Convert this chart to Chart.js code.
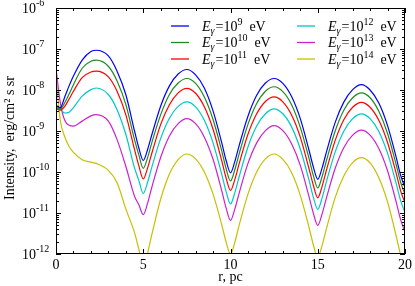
<!DOCTYPE html>
<html>
<head>
<meta charset="utf-8">
<script src="https://cdn.jsdelivr.net/npm/chart.js@4.4.0/dist/chart.umd.min.js"></script>
<style>
  html, body { margin: 0; padding: 0; background: #fff; }
</style>
</head>
<body>
<canvas id="myChart" width="415" height="286"></canvas>
<script>
// r, pc
const radius = [0, 0.25, 0.5, 0.75, 1, 1.5, 2, 2.3, 3, 3.5, 4, 4.5, 4.75, 5, 5.25, 5.5, 6, 6.5, 7, 7.5,
  8, 8.5, 9, 9.5, 9.75, 10, 10.25, 10.5, 11, 11.5, 12, 12.5, 13, 13.5, 14, 14.5, 14.75, 15, 15.25, 15.5,
  16, 16.5, 17, 17.5, 18, 18.5, 19, 19.5, 19.75, 20]

// photon energy exponents (E = 10^n eV)
const energyExp = [9, 10, 11, 12, 13, 14]
const lineColors = ['#0000ff', '#1e8c1e', '#ff0000', '#00c8c8', '#cc22cc', '#c8bf00']

// intensity, erg/cm^2 s sr
const intensity9 = [4.17e-9, 3.72e-9, 6.76e-9, 1.26e-8, 2.19e-8, 5.37e-8, 8.71e-8, 9.33e-8, 6.76e-8, 2.88e-8,
  7.76e-9, 1.0e-9, 3.80e-10, 1.91e-10, 3.55e-10, 8.32e-10, 4.07e-9, 1.26e-8, 2.45e-8, 3.16e-8,
  2.34e-8, 1.12e-8, 3.09e-9, 5.13e-10, 1.91e-10, 9.55e-11, 1.82e-10, 4.47e-10, 2.29e-9, 7.41e-9,
  1.48e-8, 1.91e-8, 1.45e-8, 6.92e-9, 2.0e-9, 3.39e-10, 1.32e-10, 6.61e-11, 1.26e-10, 3.09e-10,
  1.62e-9, 5.13e-9, 1.02e-8, 1.35e-8, 1.0e-8, 4.79e-9, 1.35e-9, 2.24e-10, 8.32e-11, 4.17e-11]
const intensity10 = [3.72e-9, 3.47e-9, 4.90e-9, 7.94e-9, 1.35e-8, 3.39e-8, 5.01e-8, 5.37e-8, 3.80e-8, 1.66e-8,
  4.47e-9, 6.17e-10, 2.57e-10, 1.23e-10, 2.24e-10, 5.37e-10, 2.51e-9, 7.76e-9, 1.48e-8, 1.91e-8,
  1.45e-8, 6.76e-9, 1.91e-9, 3.24e-10, 1.20e-10, 6.03e-11, 1.15e-10, 2.82e-10, 1.45e-9, 4.68e-9,
  9.33e-9, 1.20e-8, 9.12e-9, 4.37e-9, 1.23e-9, 2.14e-10, 8.13e-11, 4.07e-11, 7.76e-11, 1.91e-10,
  1.0e-9, 3.24e-9, 6.46e-9, 8.51e-9, 6.46e-9, 3.02e-9, 8.71e-10, 1.48e-10, 5.62e-11, 2.82e-11]
const intensity11 = [3.55e-9, 3.24e-9, 3.98e-9, 6.03e-9, 9.33e-9, 2.0e-8, 2.75e-8, 2.88e-8, 2.09e-8, 9.33e-9,
  2.51e-9, 3.55e-10, 1.41e-10, 6.76e-11, 1.26e-10, 2.95e-10, 1.45e-9, 4.37e-9, 8.51e-9, 1.10e-8,
  8.32e-9, 3.89e-9, 1.10e-9, 1.86e-10, 7.08e-11, 3.55e-11, 6.61e-11, 1.62e-10, 8.32e-10, 2.63e-9,
  5.25e-9, 6.76e-9, 5.13e-9, 2.45e-9, 7.08e-10, 1.20e-10, 4.68e-11, 2.34e-11, 4.47e-11, 1.12e-10,
  5.89e-10, 1.91e-9, 3.80e-9, 5.01e-9, 3.80e-9, 1.82e-9, 5.25e-10, 9.12e-11, 3.47e-11, 1.78e-11]
const intensity12 = [4.37e-9, 3.39e-9, 2.75e-9, 2.88e-9, 3.72e-9, 7.08e-9, 1.02e-8, 1.12e-8, 7.76e-9, 3.31e-9,
  8.32e-10, 1.26e-10, 6.17e-11, 3.02e-11, 5.62e-11, 1.35e-10, 6.61e-10, 2.04e-9, 3.98e-9, 5.13e-9,
  3.89e-9, 1.82e-9, 5.13e-10, 8.71e-11, 3.31e-11, 1.66e-11, 3.16e-11, 7.76e-11, 4.07e-10, 1.32e-9,
  2.63e-9, 3.47e-9, 2.63e-9, 1.26e-9, 3.63e-10, 6.31e-11, 2.40e-11, 1.23e-11, 2.34e-11, 5.89e-11,
  3.09e-10, 1.0e-9, 2.0e-9, 2.63e-9, 2.0e-9, 9.77e-10, 2.88e-10, 5.13e-11, 2.0e-11, 1.02e-11]
const intensity13 = [3.31e-8, 4.79e-9, 1.82e-9, 1.38e-9, 1.32e-9, 1.74e-9, 2.34e-9, 2.51e-9, 1.74e-9, 6.17e-10,
  1.38e-10, 2.57e-11, 1.58e-11, 9.12e-12, 1.74e-11, 4.37e-11, 2.29e-10, 7.59e-10, 1.51e-9, 2.0e-9,
  1.51e-9, 7.08e-10, 2.04e-10, 3.47e-11, 1.32e-11, 6.61e-12, 1.26e-11, 3.09e-11, 1.62e-10, 5.13e-10,
  1.02e-9, 1.35e-9, 1.02e-9, 4.90e-10, 1.45e-10, 2.51e-11, 9.77e-12, 5.01e-12, 9.55e-12, 2.34e-11,
  1.23e-10, 3.98e-10, 7.94e-10, 1.05e-9, 7.94e-10, 3.72e-10, 1.07e-10, 1.82e-11, 6.92e-12, 3.47e-12]
const intensity14 = [2.0e-8, 1.78e-9, 7.24e-10, 4.17e-10, 3.02e-10, 2.0e-10, 1.74e-10, 1.62e-10, 1.10e-10, 5.50e-11,
  1.26e-11, 3.31e-12, 1.29e-12, 5.01e-13, 1.07e-12, 3.09e-12, 2.19e-11, 8.91e-11, 2.0e-10, 2.75e-10,
  2.09e-10, 1.0e-10, 2.88e-11, 5.13e-12, 1.95e-12, 1.0e-12, 1.95e-12, 5.13e-12, 2.88e-11, 1.0e-10,
  2.09e-10, 2.75e-10, 2.04e-10, 9.77e-11, 2.69e-11, 4.47e-12, 1.66e-12, 8.32e-13, 1.62e-12, 4.17e-12,
  2.40e-11, 8.13e-11, 1.70e-10, 2.24e-10, 1.66e-10, 7.24e-11, 1.86e-11, 2.69e-12, 9.33e-13, 4.47e-13]

const xTickValues = [0, 5, 10, 15, 20]
const yDecades = [-12, -11, -10, -9, -8, -7, -6]

const seriesValues = [intensity9, intensity10, intensity11, intensity12, intensity13, intensity14]
const serif = '"Liberation Serif", "DejaVu Serif", serif'

// box, inward ticks on all four sides, y labels, y title and legend
const decorations = {
    id: 'decorations',
    afterDraw(chart) {
        const { ctx, chartArea: a, scales: { x, y } } = chart
        ctx.save()
        ctx.strokeStyle = '#000'
        ctx.lineWidth = 1
        ctx.strokeRect(a.left + 0.5, a.top + 0.5, a.right - a.left - 1, a.bottom - a.top - 1)

        const seg = (x1, y1, x2, y2) => {
            ctx.beginPath(); ctx.moveTo(x1, y1); ctx.lineTo(x2, y2); ctx.stroke()
        }
        for (let v = 0; v <= 20; v++) {
            const px = Math.round(x.getPixelForValue(v)) + 0.5
            const len = xTickValues.includes(v) ? 5 : 3
            seg(px, a.bottom, px, a.bottom - len)
            seg(px, a.top, px, a.top + len)
        }
        yDecades.forEach(e => {
            for (let m = 1; m <= 9; m++) {
                const v = m * Math.pow(10, e)
                if (v > 1.0001e-6) break
                const py = Math.round(y.getPixelForValue(v)) + 0.5
                const len = m === 1 ? 5 : 3
                seg(a.left, py, a.left + len, py)
                seg(a.right, py, a.right - len, py)
            }
        })

        // y tick labels 10^n
        ctx.fillStyle = '#000'
        ctx.textBaseline = 'middle'
        ctx.textAlign = 'left'
        yDecades.forEach(e => {
            const py = y.getPixelForValue(Math.pow(10, e))
            ctx.font = '14px ' + serif
            ctx.fillText('10', 22, py + 1)
            const w = ctx.measureText('10').width
            ctx.font = '10px ' + serif
            ctx.fillText(String(e), 22 + w, py - 5)
        })

        // y title
        ctx.save()
        ctx.translate(10, 138)
        ctx.rotate(-Math.PI / 2)
        ctx.textAlign = 'center'
        ctx.font = '14px ' + serif
        ctx.fillText('Intensity,  erg/cm\u00b2 s sr', 0, 0)
        ctx.restore()

        // legend, two columns of three
        ctx.textBaseline = 'alphabetic'
        ctx.textAlign = 'left'
        const colX = [171, 297]
        const rowY = [26, 42.5, 59]
        energyExp.forEach((n, i) => {
            const lx = colX[Math.floor(i / 3)]
            const ly = rowY[i % 3]
            ctx.strokeStyle = lineColors[i]
            ctx.lineWidth = 1.3
            seg(lx, ly, lx + 18, ly)
            let tx = lx + 31
            const base = ly + 4.5
            ctx.font = 'italic 14px ' + serif
            ctx.fillText('E', tx, base)
            tx += ctx.measureText('E').width
            ctx.font = 'italic 10px ' + serif
            ctx.fillText('\u03b3', tx, base + 3)
            tx += ctx.measureText('\u03b3').width + 1
            ctx.font = '14px ' + serif
            ctx.fillText('=10', tx, base)
            tx += ctx.measureText('=10').width
            ctx.font = '10px ' + serif
            ctx.fillText(String(n), tx, base - 6)
            tx += ctx.measureText(String(n)).width + 7
            ctx.font = '14px ' + serif
            ctx.fillText('eV', tx, base)
        })
        ctx.restore()
    }
}

const ctx = document.getElementById('myChart')
new Chart(ctx, {
    type: 'line',
    data: {
        datasets: seriesValues.map((vals, i) => ({
            label: 'E=10^' + energyExp[i] + ' eV',
            data: radius.map((r, k) => ({ x: r, y: vals[k] })),
            borderColor: lineColors[i],
            borderWidth: 1.2,
            pointRadius: 0,
            fill: false,
            cubicInterpolationMode: 'monotone'
        }))
    },
    options: {
        responsive: false,
        animation: false,
        devicePixelRatio: 1,
        layout: { padding: { top: 8, right: 8, left: 0, bottom: 0 } },
        plugins: { legend: { display: false }, tooltip: { enabled: false } },
        scales: {
            x: {
                type: 'linear',
                min: 0,
                max: 20,
                grid: { display: false, drawTicks: false },
                border: { display: false },
                afterBuildTicks: s => { s.ticks = xTickValues.map(v => ({ value: v })) },
                afterFit: s => { s.height = 32 },
                ticks: { color: '#000', padding: 3, maxRotation: 0, font: { family: serif, size: 14 } },
                title: { display: true, text: 'r, pc', color: '#000', padding: { top: 0, bottom: 0 }, font: { family: serif, size: 14 } }
            },
            y: {
                type: 'logarithmic',
                min: 1e-12,
                max: 1e-6,
                grid: { display: false, drawTicks: false },
                border: { display: false },
                ticks: { display: false },
                afterFit: s => { s.width = 56 }
            }
        }
    },
    plugins: [decorations]
});
</script>
</body>
</html>
